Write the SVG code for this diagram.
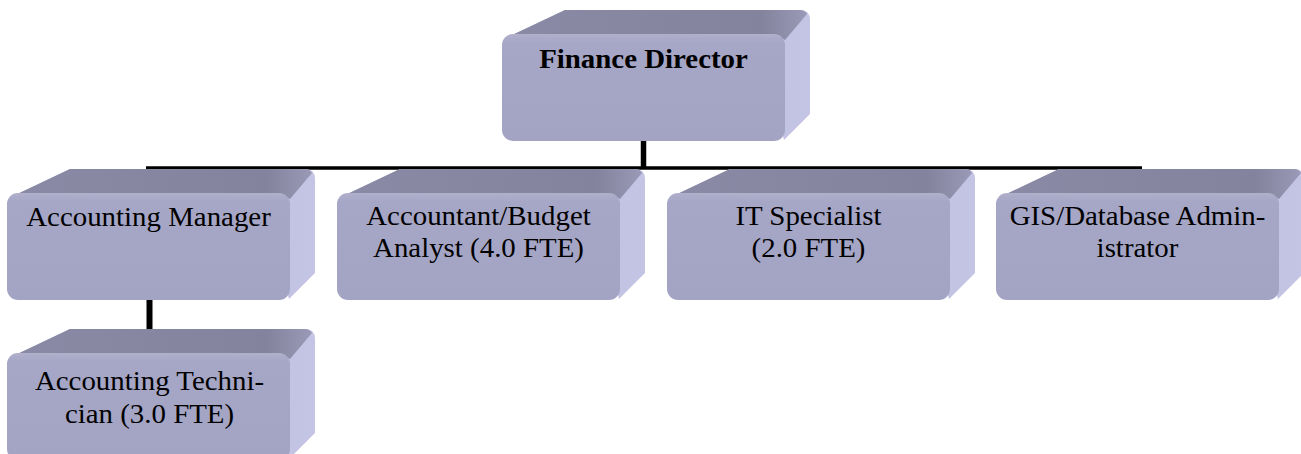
<svg xmlns="http://www.w3.org/2000/svg" xmlns:xlink="http://www.w3.org/1999/xlink" width="1301" height="454" viewBox="0 0 1301 454">
  <style>
    .t { font-family: "Liberation Serif", "Times New Roman", serif; font-size: 27.5px; fill: #000; text-anchor: middle; }
    .b { font-weight: bold; }
    .conn { stroke: #000; fill: none; }
  </style>
  <defs>
    <linearGradient id="gFront" x1="0" y1="0" x2="0" y2="1">
      <stop offset="0" stop-color="#B0B0CC"/>
      <stop offset="0.08" stop-color="#A6A6C6"/>
      <stop offset="1" stop-color="#A3A3C4"/>
    </linearGradient>
    <linearGradient id="gTop" x1="0" y1="0" x2="1" y2="0">
      <stop offset="0" stop-color="#8A8AA6"/>
      <stop offset="0.85" stop-color="#83839D"/>
      <stop offset="1" stop-color="#9A9AB8"/>
    </linearGradient>
    <linearGradient id="gRight" x1="0" y1="0" x2="1" y2="0">
      <stop offset="0" stop-color="#B4B4D4"/>
      <stop offset="1" stop-color="#C4C4E4"/>
    </linearGradient>
    <g id="box">
      <path d="M 4 4 L 63 -24 L 298 -24 Q 308 -24 308 -14 L 308 80 L 282 106 L 270 60 Z" fill="url(#gRight)"/>
      <path d="M 4 4 L 63 -24 L 298 -24 Q 303 -24 305 -20 L 283 6 L 272 0 Z" fill="url(#gTop)"/>
      <rect x="0" y="0" width="283" height="107" rx="11" ry="11" fill="url(#gFront)"/>
    </g>
  </defs>

  <g id="connectors">
    <line class="conn" x1="146" y1="168" x2="1142" y2="168" stroke-width="3.5"/>
    <line class="conn" x1="643.5" y1="140" x2="643.5" y2="168" stroke-width="5.5"/>
    <line class="conn" x1="149.5" y1="298" x2="149.5" y2="332" stroke-width="6"/>
  </g>

  <g id="finance-director">
    <use xlink:href="#box" transform="translate(502,34)"/>
    <text class="t b" transform="translate(643.5,68) scale(1.05,1)">Finance Director</text>
  </g>

  <g id="accounting-manager">
    <use xlink:href="#box" transform="translate(7,193)"/>
    <text class="t" transform="translate(148.5,226) scale(1.05,1)">Accounting Manager</text>
  </g>

  <g id="accountant-budget-analyst">
    <use xlink:href="#box" transform="translate(337,193)"/>
    <text class="t" transform="translate(478.5,225) scale(1.05,1)">Accountant/Budget</text>
    <text class="t" transform="translate(478.5,257) scale(1.05,1)">Analyst (4.0 FTE)</text>
  </g>

  <g id="it-specialist">
    <use xlink:href="#box" transform="translate(667,193)"/>
    <text class="t" transform="translate(808.5,225) scale(1.05,1)">IT Specialist</text>
    <text class="t" transform="translate(808.5,257) scale(1.05,1)">(2.0 FTE)</text>
  </g>

  <g id="gis-database-administrator">
    <use xlink:href="#box" transform="translate(996,193)"/>
    <text class="t" transform="translate(1137.5,225) scale(1.05,1)">GIS/Database Admin-</text>
    <text class="t" transform="translate(1137.5,257) scale(1.05,1)">istrator</text>
  </g>

  <g id="accounting-technician">
    <use xlink:href="#box" transform="translate(7,353)"/>
    <text class="t" transform="translate(149.5,390) scale(1.05,1)">Accounting Techni-</text>
    <text class="t" transform="translate(149.5,423) scale(1.05,1)">cian (3.0 FTE)</text>
  </g>
</svg>
